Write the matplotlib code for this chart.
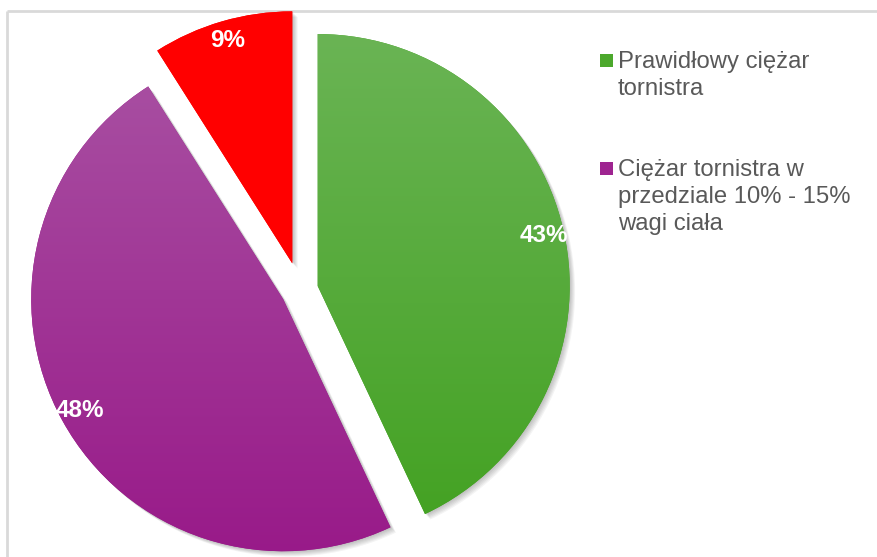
import textwrap

import matplotlib
matplotlib.use("Agg")
import matplotlib.pyplot as plt
import numpy as np
from matplotlib.colors import LinearSegmentedColormap
from matplotlib.patches import Rectangle, Shadow

# --- data -------------------------------------------------------------
categories = [
    "Prawidłowy ciężar tornistra",
    "Ciężar tornistra w przedziale 10% - 15% wagi ciała",
    "Ciężar tornistra powyżej 15% wagi ciała",
]
shares = [43, 48, 9]
legend_shown = 2

# --- style ------------------------------------------------------------
top_colors = ["#6CB557", "#AA56A5", "#FF0000"]
bottom_colors = ["#40A01E", "#981888", "#FF0000"]
swatch_colors = ["#4CA82C", "#9E2490", "#FF0000"]
explode_frac = [0.072, 0.076, 0.11]   # fraction of the radius
FONT = "Liberation Sans"

W, H = 877, 557
fig = plt.figure(figsize=(W / 100, H / 100), dpi=100)
ax = fig.add_axes([0, 0, 1, 1])

cx, cy, R = 300, 267, 252

wedges, _, autotexts = ax.pie(
    shares,
    explode=[e * R for e in explode_frac],
    startangle=90,
    counterclock=False,
    center=(cx, cy),
    radius=R,
    colors=bottom_colors,
    autopct="%.0f%%",
    pctdistance=0.92,
    wedgeprops=dict(linewidth=0, zorder=3),
    textprops=dict(color="white", fontsize=17.5, fontweight="bold", family=FONT),
)

# soft drop shadow under each slice
for w in wedges:
    for k in range(1, 7):
        s = Shadow(w, ox=k * 0.65, oy=-k * 0.65, facecolor="black",
                   edgecolor="none", alpha=0.045, zorder=2)
        ax.add_patch(s)

# vertical gradient fill clipped to each slice
grad = np.linspace(0, 1, 256).reshape(-1, 1)
for w, c0, c1 in zip(wedges, top_colors, bottom_colors):
    cmap = LinearSegmentedColormap.from_list("g", [c0, c1])
    im = ax.imshow(grad, extent=(cx - R - 40, cx + R + 40, cy - R - 30, cy + R + 30),
                   origin="upper", cmap=cmap, aspect="auto", zorder=3.5,
                   interpolation="bilinear")
    im.set_clip_path(w)

for t in autotexts:
    t.set_zorder(6)

ax.set_xlim(0, W)
ax.set_ylim(0, H)
ax.axis("off")

# chart frame (top and left edges visible)
ax.plot([7, W + 5], [H - 11, H - 11], color="#D9D9D9", lw=2, zorder=1,
        solid_capstyle="butt")
ax.plot([7, 7], [H - 11, -5], color="#D9D9D9", lw=2, zorder=1,
        solid_capstyle="butt")

# legend
first_baseline = 68
line_h = 27
entry_gap = 108
for i in range(legend_shown):
    base = first_baseline + i * entry_gap
    ax.add_patch(Rectangle((600, H - base + 1), 13, 13,
                           facecolor=swatch_colors[i], edgecolor="none", zorder=5))
    for j, line in enumerate(textwrap.wrap(categories[i], 20)):
        ax.text(618, H - (base + j * line_h), line, fontsize=17.2, family=FONT,
                color="#595959", va="baseline", ha="left", zorder=5)

fig.savefig("out.png", dpi=100)
